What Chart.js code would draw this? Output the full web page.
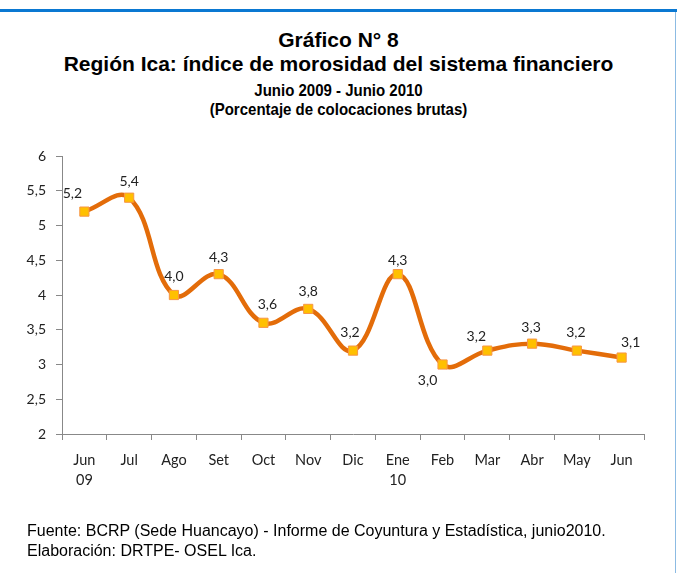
<!DOCTYPE html>
<html>
<head>
<meta charset="utf-8">
<script src="https://cdn.jsdelivr.net/npm/chart.js@4.4.1/dist/chart.umd.min.js"></script>
<style>
  html, body { margin: 0; padding: 0; background: #fff; }
  #wrap { position: relative; width: 677px; height: 573px; overflow: hidden; }
  #wrap canvas { position: absolute; left: 0; top: 0; }
  .frame-top { position: absolute; left: 0; top: 9px; width: 677px; height: 3px; background: #0a78d2; }
  .frame-right { position: absolute; left: 675px; top: 12px; width: 1px; height: 561px; background: #8cbbe3; }
  .t { position: absolute; left: 0; width: 677px; text-align: center; font-family: "Liberation Sans", Arial, sans-serif; font-weight: bold; color: #000; white-space: nowrap; }
  .t.big { font-size: 21px; line-height: 24px; }
  .t.sub { font-size: 15px; line-height: 18px; transform: scaleY(1.15); }
  .foot { position: absolute; left: 27px; font-family: "Liberation Sans", Arial, sans-serif; font-size: 16px; line-height: 18px; color: #000; white-space: nowrap; }
</style>
</head>
<body>
<div id="wrap">
  <div class="frame-top"></div>
  <div class="frame-right"></div>
  <div class="t big" style="top:28px;">Gráfico N° 8</div>
  <div class="t big" style="top:52px;">Región Ica: índice de morosidad del sistema financiero</div>
  <div class="t sub" style="top:81px;">Junio 2009 - Junio 2010</div>
  <div class="t sub" style="top:100px;">(Porcentaje de colocaciones brutas)</div>
  <canvas id="chart" width="677" height="573"></canvas>
  <div class="foot" style="top:522px;">Fuente: BCRP (Sede Huancayo) - Informe de Coyuntura y Estadística, junio2010.</div>
  <div class="foot" style="top:542px;">Elaboración: DRTPE- OSEL Ica.</div>
</div>
<script>
const months = [["Jun", "09"], "Jul", "Ago", "Set", "Oct", "Nov", "Dic", ["Ene", "10"], "Feb", "Mar", "Abr", "May", "Jun"];
const morosidad = [5.2, 5.4, 4.0, 4.3, 3.6, 3.8, 3.2, 4.3, 3.0, 3.2, 3.3, 3.2, 3.1];
const yTicks = [2, 2.5, 3, 3.5, 4, 4.5, 5, 5.5, 6];

// where each value label sits relative to its point (px)
const labelOffsets = [[-12, -18], [0, -16], [0, -19], [0, -17], [4, -18], [0, -17], [-3, -18], [0, -14], [-15, 16], [-11, -14], [-1, -16], [-1, -18], [9, -15]];

const fmt = (v, d) => v.toFixed(d).replace(".", ",");
const tickFont = "Lato, 'Open Sans', sans-serif";

const valueLabels = {
  id: "valueLabels",
  afterDatasetsDraw(chart) {
    const ctx = chart.ctx;
    const meta = chart.getDatasetMeta(0);
    ctx.save();
    ctx.font = "14px " + tickFont;
    ctx.fillStyle = "#222";
    ctx.textAlign = "center";
    ctx.textBaseline = "middle";
    meta.data.forEach((pt, i) => {
      const [dx, dy] = labelOffsets[i];
      ctx.fillText(fmt(morosidad[i], 1), pt.x + dx, pt.y + dy);
    });
    ctx.restore();
  }
};

new Chart(document.getElementById("chart"), {
  type: "line",
  data: {
    labels: months,
    datasets: [{
      data: morosidad,
      borderColor: "#e36c09",
      borderWidth: 4.5,
      tension: 0.4,
      pointStyle: "rect",
      pointRadius: 6.5,
      pointBackgroundColor: "#ffc000",
      pointBorderColor: "#f79646",
      pointBorderWidth: 1
    }]
  },
  options: {
    responsive: false,
    animation: false,
    layout: { padding: { top: 156, left: 0, right: 33, bottom: 59 } },
    plugins: { legend: { display: false }, tooltip: { enabled: false } },
    scales: {
      x: {
        offset: true,
        grid: { offset: true, drawOnChartArea: false, drawTicks: true, tickLength: 6, color: "#888" },
        border: { color: "#888", width: 1 },
        ticks: {
          color: "#222",
          padding: 10,
          maxRotation: 0,
          autoSkip: false,
          font: { family: tickFont, size: 14.5, lineHeight: 1.38 }
        },
        afterFit: (s) => { s.height = 80; }
      },
      y: {
        min: 2,
        max: 6,
        afterBuildTicks: (s) => { s.ticks = yTicks.map((v) => ({ value: v })); },
        grid: { drawOnChartArea: false, drawTicks: true, tickLength: 6, color: "#888" },
        border: { color: "#888", width: 1 },
        ticks: {
          color: "#222",
          padding: 10,
          font: { family: tickFont, size: 14 },
          callback: (v) => (Number.isInteger(v) ? String(v) : fmt(v, 1))
        },
        afterFit: (s) => { s.width = 62; }
      }
    }
  },
  plugins: [valueLabels]
});
</script>
</body>
</html>
